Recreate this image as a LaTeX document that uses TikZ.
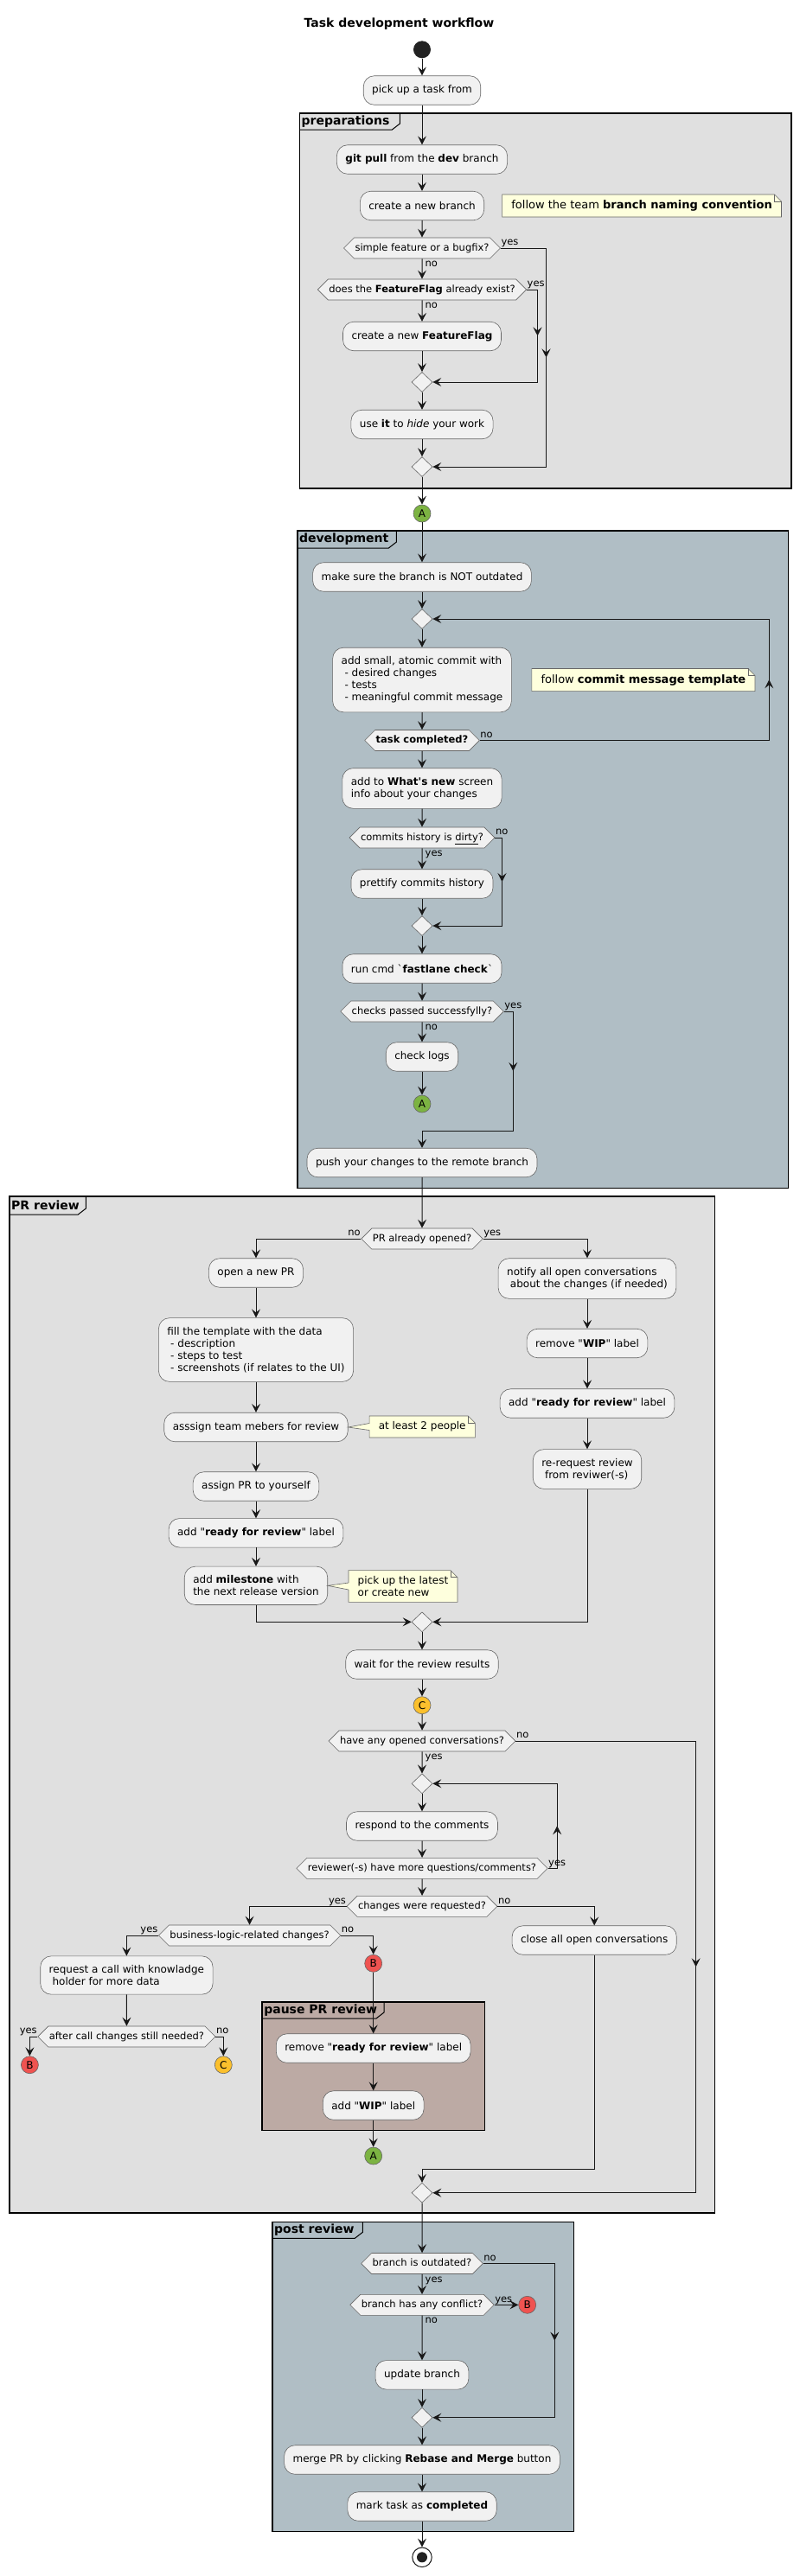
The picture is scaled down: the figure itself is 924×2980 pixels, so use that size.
\documentclass[tikz,border=0pt]{standalone}
\usepackage{fontspec}
\setmainfont{DejaVu Sans}
\usepackage{xcolor}
\usepackage{tikz}
\usetikzlibrary{arrows.meta, positioning, calc, shapes.geometric, shapes.symbols, decorations.markings}

\definecolor{actfill}{HTML}{F1F1F1}
\definecolor{notefill}{HTML}{FEFFDD}
\definecolor{greyframe}{HTML}{E0E0E0}
\definecolor{blueframe}{HTML}{B0BEC5}
\definecolor{brownframe}{HTML}{BCAAA4}
\definecolor{conA}{HTML}{7CB342}
\definecolor{conB}{HTML}{EF5350}
\definecolor{conC}{HTML}{FBC02D}
\definecolor{linecol}{HTML}{181818}
\definecolor{startfill}{HTML}{222222}

\pgfdeclarelayer{backlayer}
\pgfsetlayers{backlayer,main}

\begin{document}
\begin{tikzpicture}[x=1pt, y=-1pt,
		act/.style={draw=black!60, line width=.6pt, fill=actfill, rounded corners=12.5pt, inner xsep=10pt, inner ysep=10.5pt, minimum height=33.5pt, align=left, font=\fontsize{12}{14}\selectfont},
		dec/.style={signal, signal to=west and east, signal pointer angle=90, draw=black!60, line width=.6pt, fill=actfill, inner xsep=1pt, inner ysep=6.5pt, text height=8.5pt, text depth=2.5pt, font=\fontsize{11.5}{13}\selectfont},
		mergept/.style={diamond, draw=black!60, line width=.6pt, fill=actfill, minimum width=24pt, minimum height=23pt, inner sep=0pt},
		conn/.style={circle, draw=black!60, line width=.6pt, minimum size=20pt, inner sep=0pt, font=\fontsize{12}{14}\selectfont},
		notebox/.style={rectangle, inner xsep=10.5pt, inner ysep=6.5pt, align=left},
		notefold/.style={draw=black!60, line width=.6pt},
		yesno/.style={inner sep=.5pt, text height=8.5pt, text depth=2.5pt, font=\fontsize{11.5}{13}\selectfont},
		frameline/.style={draw=black, line width=1.5pt},
		framelabel/.style={anchor=west, inner sep=0pt, font=\fontsize{14}{16}\selectfont\bfseries},
		flow/.style={draw=linecol, line width=1pt, -{Stealth[length=10pt, width=10pt, inset=4pt]}},
		midarrow/.style={line width=1pt, postaction={decorate}, decoration={markings, mark=at position .5 with {\arrow[linecol]{Stealth[length=10pt, width=10pt, inset=4pt]}}}}
	]
	\useasboundingbox (0,0) rectangle (924,2980);
	
	% Frames
	\begin{pgfonlayer}{backlayer}
	\filldraw[frameline, fill=greyframe] (346.6,131) rectangle (914.8,565);
	\draw[frameline, line width=1pt] (346.6,150) -- (453.4,150) -- (462.4,143) -- (462.4,131);
	
	\filldraw[frameline, fill=blueframe] (343.8,614) rectangle (911.6,1374.3);
	\draw[frameline, line width=1pt] (343.8,634) -- (449.4,634) -- (458.4,627) -- (458.4,614);
	
	\filldraw[frameline, fill=greyframe] (11,1384) rectangle (826.5,2560);
	\draw[frameline, line width=1pt] (11,1405) -- (90.3,1405) -- (99.3,1398) -- (99.3,1384);
	
	\filldraw[frameline, fill=brownframe] (303.1,2316) rectangle (560.7,2464.3);
	\draw[frameline, line width=1pt] (303.1,2335) -- (435,2335) -- (444,2328) -- (444,2316);
	
	\filldraw[frameline, fill=blueframe] (315,2570.3) rectangle (663.7,2928.7);
	\draw[frameline, line width=1pt] (315,2589.3) -- (410.3,2589.3) -- (419.3,2582.3) -- (419.3,2570.3);
	\end{pgfonlayer}
	\node[framelabel] (prepLabel) at (348.5,140.5) {preparations};
	\node[framelabel] (devLabel) at (345.8,624) {development};
	\node[framelabel] (prLabel) at (13,1394.5) {PR review};
	\node[framelabel] (pauseLabel) at (305.1,2325.5) {pause PR review};
	\node[framelabel] (postLabel) at (317,2579.8) {post review};
	
	% Title and start
	\node[font=\fontsize{14}{16}\selectfont\bfseries] (title) at (461.5,28) {Task development workflow};
	\node[circle, fill=startfill, minimum size=20pt, inner sep=0pt] (startpt) at (488,57.3) {};
	
	% preparations
	\node[act] (pick) at (488,104.5) {pick up a task from};
	\node[act] (gitpull) at (488,184.5) {\textbf{git pull} from the \textbf{dev} branch};
	\node[act] (newbranch) at (488,238) {create a new branch};
	\node[notebox, font=\fontsize{13}{15}\selectfont] (nBranch) at (742.1,238) {follow the team \textbf{branch naming convention}};
	\node[dec] (simple) at (488,287) {simple feature or a bugfix?};
	\node[dec] (ffexist) at (488,335) {does the \textbf{FeatureFlag} already exist?};
	\node[act] (newff) at (488,389) {create a new \textbf{FeatureFlag}};
	\node[mergept] (m1) at (488,442) {};
	\node[act] (useit) at (488,491) {use \textbf{it} to \textit{hide} your work};
	\node[mergept] (m2) at (488,540) {};
	\node[conn, fill=conA] (conA1) at (488,594) {A};
	
	% development
	\node[act] (mksure) at (488,667.5) {make sure the branch is NOT outdated};
	\node[mergept] (loop1) at (488,716) {};
	\node[act] (commit) at (488,786.5) {add small, atomic commit with\\~- desired changes\\~- tests\\~- meaningful commit message};
	\node[notebox, font=\fontsize{13}{15}\selectfont] (nCommit) at (743.9,786.5) {follow \textbf{commit message template}};
	\node[dec] (taskdone) at (488,856.5) {\textbf{task completed?}};
	\node[act] (whatsnew) at (488,912) {add to \textbf{What\textquotesingle s new} screen\\info about your changes};
	\node[dec] (dirty) at (488,969) {commits history is \underline{dirty}?};
	\node[act] (prettify) at (488,1022.5) {prettify commits history};
	\node[mergept] (m3) at (488,1071) {};
	\node[act] (fastlane) at (488,1120.5) {run cmd \textasciigrave\textbf{fastlane check}\textasciigrave};
	\node[dec] (checks) at (488,1170) {checks passed successfylly?};
	\node[act] (logs) at (488,1222.5) {check logs};
	\node[conn, fill=conA] (conA2) at (488,1277) {A};
	\node[act] (push) at (488,1345) {push your changes to the remote branch};
	
	% PR review
	\node[dec] (propen) at (488,1433) {PR already opened?};
	\node[act] (openpr) at (296,1472.5) {open a new PR};
	\node[act] (filltpl) at (296,1561.5) {fill the template with the data\\~- description\\~- steps to test\\~- screenshots (if relates to the UI)};
	\node[act] (asssign) at (296,1651) {asssign team mebers for review};
	\node[notebox, font=\fontsize{12}{14}\selectfont] (nPeople) at (488.2,1650.5) {at least 2 people};
	\node[act] (assignpr) at (296,1719.5) {assign PR to yourself};
	\node[act] (addreadyL) at (296,1773.3) {add \textquotedbl\textbf{ready for review}\textquotedbl{} label};
	\node[act] (milestone) at (296,1834.3) {add \textbf{milestone} with\\the next release version};
	\node[notebox, font=\fontsize{12}{14}\selectfont] (nMile) at (466,1835) {pick up the latest\\or create new};
	\node[act] (notify) at (679,1479) {notify all open conversations\\~about the changes (if needed)};
	\node[act] (rmwip) at (679,1554) {remove \textquotedbl\textbf{WIP}\textquotedbl{} label};
	\node[act] (addreadyR) at (679,1623.5) {add \textquotedbl\textbf{ready for review}\textquotedbl{} label};
	\node[act] (rereq) at (679,1699.5) {re-request review\\~from reviwer(-s)};
	\node[mergept] (m4) at (488,1876.3) {};
	\node[act] (waitres) at (488,1925.5) {wait for the review results};
	\node[conn, fill=conC] (conC1) at (488,1972.7) {C};
	\node[dec] (anyconv) at (488,2014) {have any opened conversations?};
	\node[mergept] (loop2) at (488,2063.3) {};
	\node[act] (respond) at (488,2112.5) {respond to the comments};
	\node[dec] (moreq) at (488,2161.3) {reviewer(-s) have more questions/comments?};
	\node[dec] (changes) at (488,2205.3) {changes were requested?};
	\node[dec] (business) at (288.6,2239) {business-logic-related changes?};
	\node[act] (reqcall) at (146.4,2285) {request a call with knowladge\\~holder for more data};
	\node[dec] (after) at (146.4,2356) {after call changes still needed?};
	\node[conn, fill=conB] (conB1) at (34.4,2388.7) {B};
	\node[conn, fill=conC] (conC2) at (258.3,2388.7) {C};
	\node[conn, fill=conB] (conB2) at (431.7,2271.3) {B};
	\node[act] (rmready) at (431.7,2369.5) {remove \textquotedbl\textbf{ready for review}\textquotedbl{} label};
	\node[act] (addwip) at (431.7,2435.5) {add \textquotedbl\textbf{WIP}\textquotedbl{} label};
	\node[conn, fill=conA] (conA3) at (431.7,2494) {A};
	\node[act] (closeconv) at (687.2,2244.5) {close all open conversations};
	\node[mergept] (m5) at (488,2536.7) {};
	
	% post review
	\node[dec] (outdated) at (488,2618.5) {branch is outdated?};
	\node[dec] (conflict) at (488,2666.3) {branch has any conflict?};
	\node[conn, fill=conB] (conB3) at (609.7,2666.3) {B};
	\node[act] (updbranch) at (488,2747.3) {update branch};
	\node[mergept] (m6) at (488,2796.7) {};
	\node[act] (mergepr) at (488,2845.5) {merge PR by clicking \textbf{Rebase and Merge} button};
	\node[act] (markdone) at (488,2899.5) {mark task as \textbf{completed}};
	\node[circle, draw=linecol, line width=1pt, fill=white, minimum size=22.5pt, inner sep=0pt] (stoppt) at (488,2958.3) {};
	\node[circle, fill=startfill, minimum size=12pt, inner sep=0pt] (stopdot) at (stoppt) {};
	
	% Note outlines, folds and pointers
	\begin{pgfonlayer}{backlayer}
	\foreach \n in {nBranch, nCommit, nPeople, nMile} {
		\filldraw[notefold, fill=notefill] (\n.north west) -- ($(\n.north east)+(-8,0)$) -- ($(\n.north east)+(0,8)$) -- (\n.south east) -- (\n.south west) -- cycle;
	}
	\end{pgfonlayer}
	\foreach \n in {nBranch, nCommit, nPeople, nMile} {
		\draw[notefold] ($(\n.north east)+(-8,0)$) |- ($(\n.north east)+(0,8)$);
	}
	\fill[notefill] (asssign.east) -- ($(nPeople.west)+(1,-4)$) -- ($(nPeople.west)+(1,4)$) -- cycle;
	\draw[notefold] ($(nPeople.west)+(0,-4)$) -- (asssign.east) -- ($(nPeople.west)+(0,4)$);
	\fill[notefill] (milestone.east) -- ($(nMile.west)+(1,-4)$) -- ($(nMile.west)+(1,4)$) -- cycle;
	\draw[notefold] ($(nMile.west)+(0,-4)$) -- (milestone.east) -- ($(nMile.west)+(0,4)$);
	
	% Straight connectors
	\foreach \a/\b in {startpt/pick, pick/gitpull, gitpull/newbranch, newbranch/simple, simple/ffexist, ffexist/newff, newff/m1, m1/useit, useit/m2, m2/conA1,
		conA1/mksure, mksure/loop1, loop1/commit, commit/taskdone, taskdone/whatsnew, whatsnew/dirty, dirty/prettify, prettify/m3, m3/fastlane, fastlane/checks, checks/logs, logs/conA2,
		push/propen, openpr/filltpl, filltpl/asssign, asssign/assignpr, assignpr/addreadyL, addreadyL/milestone, notify/rmwip, rmwip/addreadyR, addreadyR/rereq,
		m4/waitres, waitres/conC1, conC1/anyconv, anyconv/loop2, loop2/respond, respond/moreq, moreq/changes, reqcall/after, conB2/rmready, rmready/addwip, addwip/conA3,
		m5/outdated, outdated/conflict, conflict/updbranch, updbranch/m6, m6/mergepr, mergepr/markdone, markdone/stoppt} {
		\draw[flow] (\a) -- (\b);
	}
	
	% Branch and loop connectors
	\coordinate (simpleTurn) at (631.5,540);
	\coordinate (ffTurn) at (621.5,442);
	\coordinate (taskTurn) at (889.3,716);
	\coordinate (dirtyTurn) at (580.5,1071);
	\coordinate (checksTurn) at (593.3,1308);
	\coordinate (convTurn) at (804.6,2536.7);
	\coordinate (moreTurn) at (644.2,2063.3);
	\coordinate (closeTurn) at (488,2509.3);
	\coordinate (outdatedTurn) at (641.3,2796.7);
	
	\draw[flow] (simple.east) -| (simpleTurn) -- (m2.east);
	\path[midarrow] (simple.east -| simpleTurn) -- (simpleTurn);
	\draw[flow] (ffexist.east) -| (ffTurn) -- (m1.east);
	\path[midarrow] (ffexist.east -| ffTurn) -- (ffTurn);
	\draw[flow] (taskdone.east) -| (taskTurn) -- (loop1.east);
	\path[midarrow] (taskdone.east -| taskTurn) -- (taskTurn);
	\draw[flow] (dirty.east) -| (dirtyTurn) -- (m3.east);
	\path[midarrow] (dirty.east -| dirtyTurn) -- (dirtyTurn);
	\draw[flow] (checks.east) -| (checksTurn) -| (push.north);
	\path[midarrow] (checks.east -| checksTurn) -- (checksTurn);
	
	\draw[flow] (propen.west) -| (openpr.north);
	\draw[flow] (propen.east) -| (notify.north);
	\draw[flow] (milestone.south) |- (m4.west);
	\draw[flow] (rereq.south) |- (m4.east);
	\draw[flow] (anyconv.east) -| (convTurn) -- (m5.east);
	\path[midarrow] (anyconv.east -| convTurn) -- (convTurn);
	\draw[flow] (moreq.east) -| (moreTurn) -- (loop2.east);
	\path[midarrow] (moreq.east -| moreTurn) -- (moreTurn);
	\draw[flow] (changes.west) -| (business.north);
	\draw[flow] (changes.east) -| (closeconv.north);
	\draw[flow] (business.west) -| (reqcall.north);
	\draw[flow] (business.east) -| (conB2.north);
	\draw[flow] (after.west) -| (conB1.north);
	\draw[flow] (after.east) -| (conC2.north);
	\draw[flow] (closeconv.south) |- (closeTurn) -- (m5.north);
	
	\draw[flow] (outdated.east) -| (outdatedTurn) -- (m6.east);
	\path[midarrow] (outdated.east -| outdatedTurn) -- (outdatedTurn);
	\draw[flow] (conflict.east) -- (conB3.west);
	
	% yes / no labels
	\node[yesno, anchor=south west] (simpleYes) at (simple.east) {yes};
	\node[yesno, anchor=north west] (simpleNo) at ([xshift=3pt]simple.south) {no};
	\node[yesno, anchor=south west] (ffYes) at (ffexist.east) {yes};
	\node[yesno, anchor=north west] (ffNo) at ([xshift=3pt]ffexist.south) {no};
	\node[yesno, anchor=south west] (taskNo) at (taskdone.east) {no};
	\node[yesno, anchor=south west] (dirtyNo) at (dirty.east) {no};
	\node[yesno, anchor=north west] (dirtyYes) at ([xshift=3pt]dirty.south) {yes};
	\node[yesno, anchor=south west] (checksYes) at (checks.east) {yes};
	\node[yesno, anchor=north west] (checksNo) at ([xshift=3pt]checks.south) {no};
	\node[yesno, anchor=south east] (propenNo) at (propen.west) {no};
	\node[yesno, anchor=south west] (propenYes) at (propen.east) {yes};
	\node[yesno, anchor=south west] (convNo) at (anyconv.east) {no};
	\node[yesno, anchor=north west] (convYes) at ([xshift=3pt]anyconv.south) {yes};
	\node[yesno, anchor=south west] (moreYes) at (moreq.east) {yes};
	\node[yesno, anchor=south east] (changesYes) at (changes.west) {yes};
	\node[yesno, anchor=south west] (changesNo) at (changes.east) {no};
	\node[yesno, anchor=south east] (businessYes) at (business.west) {yes};
	\node[yesno, anchor=south west] (businessNo) at (business.east) {no};
	\node[yesno, anchor=south east] (afterYes) at (after.west) {yes};
	\node[yesno, anchor=south west] (afterNo) at (after.east) {no};
	\node[yesno, anchor=south west] (outdatedNo) at (outdated.east) {no};
	\node[yesno, anchor=north west] (outdatedYes) at ([xshift=3pt]outdated.south) {yes};
	\node[yesno, anchor=south west] (conflictYes) at (conflict.east) {yes};
	\node[yesno, anchor=north west] (conflictNo) at ([xshift=3pt]conflict.south) {no};
	
\end{tikzpicture}
\end{document}
